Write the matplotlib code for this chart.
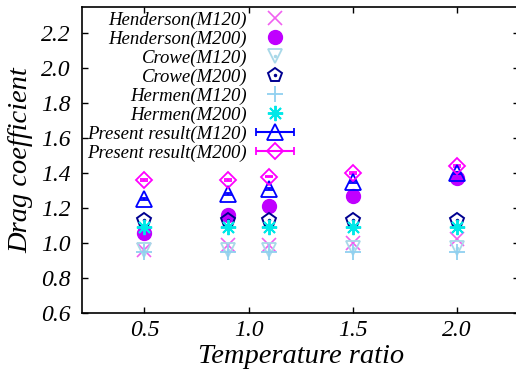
import numpy as np
import matplotlib
matplotlib.use("Agg")
import matplotlib.pyplot as plt
from matplotlib.container import ErrorbarContainer
from matplotlib.legend_handler import HandlerErrorbar

plt.rcParams["font.family"] = ["Liberation Serif", "DejaVu Serif"]
plt.rcParams["font.style"] = "italic"

# temperature ratios
temp_ratio = [0.5, 0.9, 1.1, 1.5, 2.0]

henderson_m120 = [0.96, 0.99, 0.99, 1.00, 1.02]
henderson_m200 = [1.06, 1.16, 1.21, 1.27, 1.37]
crowe_m120 = [0.96, 0.96, 0.96, 0.97, 0.97]
crowe_m200 = [1.13, 1.13, 1.13, 1.13, 1.13]
hermen_m120 = [0.95, 0.95, 0.95, 0.95, 0.95]
hermen_m200 = [1.09, 1.09, 1.09, 1.09, 1.09]
present_m120 = [1.25, 1.28, 1.31, 1.35, 1.40]
present_m200 = [1.36, 1.36, 1.38, 1.40, 1.44]
present_err = [0.005, 0.005, 0.005, 0.005, 0.005]

fig = plt.figure(figsize=(5.16, 3.69), dpi=100)
ax = fig.add_axes([0.159, 0.152, 0.847, 0.829])

h1, = ax.plot(temp_ratio, henderson_m120, "x", color="#f060f0", ms=10, mew=1.2, ls="none")
h2, = ax.plot(temp_ratio, henderson_m200, "o", color="#c000ff", ms=10, ls="none")
c1, = ax.plot(temp_ratio, crowe_m120, "v", color="#a8d8e8", mfc="none", ms=10, mew=1.3, ls="none")
c1d, = ax.plot(temp_ratio, crowe_m120, ".", color="#a8d8e8", ms=3, ls="none")
c2, = ax.plot(temp_ratio, crowe_m200, "p", color="#000090", mfc="none", ms=10.5, mew=1.4, ls="none")
c2d, = ax.plot(temp_ratio, crowe_m200, ".", color="#000090", ms=3, ls="none")
r1, = ax.plot(temp_ratio, hermen_m120, "+", color="#90d0f0", ms=11, mew=1.3, ls="none")
r2, = ax.plot(temp_ratio, hermen_m200, marker=(8, 2, 0), color="#00e8e8", ms=11, mew=1.4, ls="none")

ax.errorbar(temp_ratio, present_m120, yerr=present_err, fmt="^", color="#0000ff",
            mfc="none", ms=11, mew=1.3, capsize=3, elinewidth=1.2)
ax.errorbar(temp_ratio, present_m200, yerr=present_err, fmt="D", color="#ff00ff",
            mfc="none", ms=8.5, mew=1.3, capsize=3, elinewidth=1.2)

# legend proxies with horizontal bars, like the original legend
p1 = ax.errorbar([np.nan], [np.nan], xerr=[1], fmt="^", color="#0000ff",
                 mfc="none", ms=11, mew=1.3, capsize=3, elinewidth=1.5)
p2 = ax.errorbar([np.nan], [np.nan], xerr=[1], fmt="D", color="#ff00ff",
                 mfc="none", ms=8.5, mew=1.3, capsize=3, elinewidth=1.5)

handles = [h1, h2, (c1, c1d), (c2, c2d), r1, r2, p1, p2]
labels = ["Henderson(M120)", "Henderson(M200)", "Crowe(M120)", "Crowe(M200)",
          "Hermen(M120)", "Hermen(M200)", "Present result(M120)", "Present result(M200)"]
ax.legend(handles, labels, loc="upper right", bbox_to_anchor=(0.483, 0.985),
          frameon=False, markerfirst=False, fontsize=13.5, handlelength=1.95,
          handletextpad=0.5, labelspacing=0.09, borderpad=0, borderaxespad=0,
          handler_map={ErrorbarContainer: HandlerErrorbar(xerr_size=1.0)})

ax.set_xlim(0.2, 2.3)
ax.set_ylim(0.6, 2.35)
ax.set_xticks([0.5, 1.0, 1.5, 2.0])
ax.set_yticks(np.arange(0.6, 2.21, 0.2))
ax.xaxis.set_major_formatter(plt.FormatStrFormatter("%.1f"))
ax.yaxis.set_major_formatter(plt.FormatStrFormatter("%.1f"))
ax.tick_params(direction="in", top=True, right=True, length=4, width=1,
               labelsize=17)
ax.tick_params(axis="y", pad=8)
ax.tick_params(axis="x", pad=5)
for s in ax.spines.values():
    s.set_linewidth(1.2)

ax.set_xlabel("Temperature ratio", fontsize=20.5, labelpad=2)
ax.set_ylabel("Drag coefficient", fontsize=20.5, labelpad=6)

fig.savefig("out.png", dpi=100)
